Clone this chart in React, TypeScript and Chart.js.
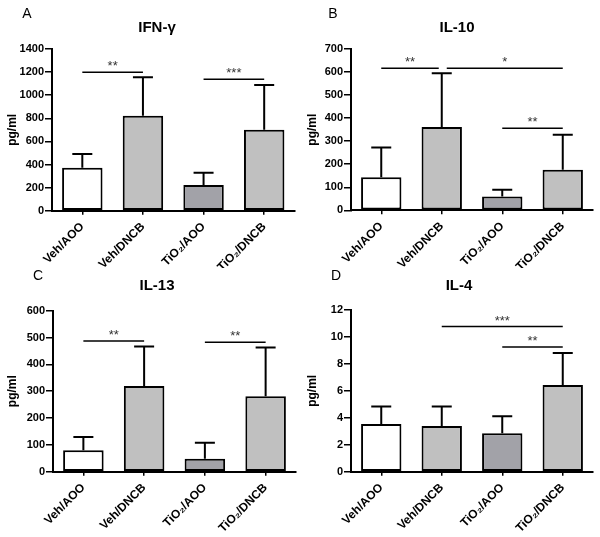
import React, { useEffect, useRef } from "react";
import { Chart, registerables } from "chart.js";

Chart.register(...registerables);

// ---- data ----
const categories = ["Veh/AOO", "Veh/DNCB", "TiO₂/AOO", "TiO₂/DNCB"];
const barColors = ["#ffffff", "#c0c0c0", "#a2a2a8", "#c0c0c0"];

const ifnMean = [372, 822, 222, 700];
const ifnUpper = [491, 1156, 328, 1089];
const il10Mean = [143, 362, 60, 176];
const il10Upper = [272, 595, 89, 328];
const il13Mean = [80, 319, 48, 281];
const il13Upper = [129, 467, 108, 463];
const il4Mean = [3.54, 3.39, 2.85, 6.44];
const il4Upper = [4.83, 4.83, 4.11, 8.81];

// [fromIndex, toIndex, yValue, label]
const ifnSig: [number, number, number, string][] = [[0, 1, 1198, "**"], [2, 3, 1138, "***"]];
const il10Sig: [number, number, number, string][] = [[0, 1, 616, "**"], [1, 3, 616, "*"], [2, 3, 356, "**"]];
const il13Sig: [number, number, number, string][] = [[0, 1, 487, "**"], [2, 3, 482, "**"]];
const il4Sig: [number, number, number, string][] = [[1, 3, 10.77, "***"], [2, 3, 9.26, "**"]];

const ifnAxis = [0, 1400, 200];
const il10Axis = [0, 700, 100];
const il13Axis = [0, 600, 100];
const il4Axis = [0, 12, 2];

const FONT = "'Liberation Sans', Arial, sans-serif";

type PanelCfg = {
  letter: string;
  title: string;
  mean: number[];
  upper: number[];
  sig: [number, number, number, string][];
  axis: number[];
  w: number;
  h: number;
  area: { left: number; top: number; right: number; bottom: number };
  letterPos: [number, number];
  titlePos: [number, number];
};

const panels: PanelCfg[] = [
  { letter: "A", title: "IFN-γ", mean: ifnMean, upper: ifnUpper, sig: ifnSig, axis: ifnAxis, w: 300, h: 268,
    area: { left: 52, top: 49, right: 294.5, bottom: 210.7 }, letterPos: [27, 14], titlePos: [157, 27.5] },
  { letter: "B", title: "IL-10", mean: il10Mean, upper: il10Upper, sig: il10Sig, axis: il10Axis, w: 300, h: 268,
    area: { left: 51, top: 49, right: 293, bottom: 210.3 }, letterPos: [33, 14], titlePos: [157, 27.5] },
  { letter: "C", title: "IL-13", mean: il13Mean, upper: il13Upper, sig: il13Sig, axis: il13Axis, w: 300, h: 269,
    area: { left: 53, top: 42.7, right: 296, bottom: 203.7 }, letterPos: [38, 8], titlePos: [157, 17.5] },
  { letter: "D", title: "IL-4", mean: il4Mean, upper: il4Upper, sig: il4Sig, axis: il4Axis, w: 300, h: 269,
    area: { left: 51, top: 42, right: 293, bottom: 203.7 }, letterPos: [36, 8], titlePos: [159, 17.5] },
];

function makeDecor(cfg: PanelCfg) {
  return {
    id: "decor" + cfg.letter,
    afterDatasetsDraw(chart: any) {
      const ctx = chart.ctx;
      const y = chart.scales.y;
      const meta = chart.getDatasetMeta(0);
      ctx.save();
      // error bars
      ctx.strokeStyle = "#000";
      ctx.lineWidth = 2;
      cfg.mean.forEach((m, i) => {
        const bx = meta.data[i].x;
        const yt = y.getPixelForValue(m);
        const ye = y.getPixelForValue(cfg.upper[i]);
        ctx.beginPath();
        ctx.moveTo(bx, yt);
        ctx.lineTo(bx, ye);
        ctx.moveTo(bx - 10, ye);
        ctx.lineTo(bx + 10, ye);
        ctx.stroke();
      });
      // significance brackets
      ctx.lineWidth = 1.5;
      cfg.sig.forEach(([a, b, v, lab], k) => {
        let x1 = meta.data[a].x;
        let x2 = meta.data[b].x;
        const yy = y.getPixelForValue(v);
        cfg.sig.forEach(([a2, b2, v2], k2) => {
          if (k2 === k || v2 !== v) return;
          if (b2 === a) x1 += 5;
          if (a2 === b) x2 -= 3;
        });
        ctx.beginPath();
        ctx.moveTo(x1, yy);
        ctx.lineTo(x2, yy);
        ctx.stroke();
        ctx.fillStyle = "#333";
        ctx.font = `13px ${FONT}`;
        ctx.textAlign = "center";
        ctx.textBaseline = "alphabetic";
        ctx.fillText(lab, (x1 + x2) / 2, yy - 2);
      });
      // texts
      ctx.fillStyle = "#000";
      ctx.font = `14px ${FONT}`;
      ctx.textAlign = "center";
      ctx.textBaseline = "middle";
      ctx.fillText(cfg.letter, cfg.letterPos[0], cfg.letterPos[1]);
      ctx.font = `bold 15px ${FONT}`;
      ctx.fillText(cfg.title, cfg.titlePos[0], cfg.titlePos[1]);
      ctx.save();
      ctx.translate(13, (chart.chartArea.top + chart.chartArea.bottom) / 2);
      ctx.rotate(-Math.PI / 2);
      ctx.font = `bold 12px ${FONT}`;
      ctx.fillText("pg/ml", 0, 0);
      ctx.restore();
      ctx.restore();
    },
  };
}

function Panel({ cfg }: { cfg: PanelCfg }) {
  const ref = useRef<HTMLCanvasElement>(null);
  useEffect(() => {
    if (!ref.current) return;
    const a = cfg.area;
    const chart = new Chart(ref.current, {
      type: "bar",
      data: {
        labels: categories,
        datasets: [
          {
            data: cfg.mean,
            backgroundColor: barColors,
            borderColor: "#000",
            borderWidth: 2,
            borderSkipped: false,
            barPercentage: 0.667,
            categoryPercentage: 1,
          },
        ],
      },
      options: {
        responsive: false,
        animation: false,
        devicePixelRatio: 1,
        layout: { padding: { left: 0, top: a.top, right: cfg.w - a.right, bottom: 0 } },
        plugins: { legend: { display: false }, tooltip: { enabled: false }, title: { display: false } },
        scales: {
          x: {
            afterFit: (s: any) => { s.height = cfg.h - a.bottom; },
            grid: { display: true, drawOnChartArea: false, drawTicks: true, tickLength: 4, offset: false, color: "#000", lineWidth: 1.5 },
            border: { display: true, color: "#000", width: 2 },
            ticks: { autoSkip: false, minRotation: 45, maxRotation: 45, padding: 5, color: "#000", font: { family: FONT, size: 12, weight: "bold" } },
          },
          y: {
            min: cfg.axis[0],
            max: cfg.axis[1],
            afterFit: (s: any) => { s.width = a.left; },
            grid: { display: true, drawOnChartArea: false, drawTicks: true, tickLength: 7, color: "#000", lineWidth: 1.5 },
            border: { display: true, color: "#000", width: 2 },
            ticks: {
              stepSize: cfg.axis[2],
              padding: 1,
              color: "#000",
              font: { family: FONT, size: 11, weight: "bold" },
              callback: (v: any) => String(v),
            },
          },
        },
      } as any,
      plugins: [makeDecor(cfg)],
    });
    return () => chart.destroy();
  }, [cfg]);
  return <canvas ref={ref} width={cfg.w} height={cfg.h} style={{ display: "block", width: cfg.w, height: cfg.h }} />;
}

export default function App() {
  return (
    <div style={{ position: "absolute", left: 0, top: 0, width: 600, height: 537, background: "#fff" }}>
      <div style={{ display: "flex" }}>
        <Panel cfg={panels[0]} />
        <Panel cfg={panels[1]} />
      </div>
      <div style={{ display: "flex" }}>
        <Panel cfg={panels[2]} />
        <Panel cfg={panels[3]} />
      </div>
    </div>
  );
}
